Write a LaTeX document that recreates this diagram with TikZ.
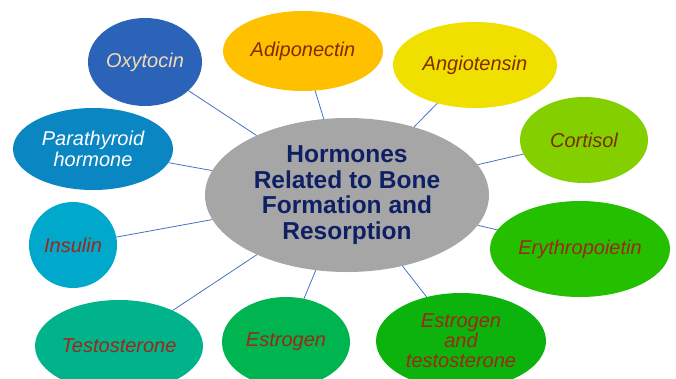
\documentclass[tikz,border=0pt]{standalone}
\usepackage{fontspec}
\setmainfont{Liberation Sans}
\usetikzlibrary{shapes.geometric}
\definecolor{linkc}{HTML}{4472C4}
\definecolor{centc}{HTML}{A6A6A6}
\definecolor{centt}{HTML}{0E2063}
\definecolor{oxyc}{HTML}{2A63B8}
\definecolor{adic}{HTML}{FFC000}
\definecolor{angc}{HTML}{EFE000}
\definecolor{corc}{HTML}{84CF00}
\definecolor{parc}{HTML}{0A86C2}
\definecolor{insc}{HTML}{00A9CC}
\definecolor{tesc}{HTML}{00B38A}
\definecolor{estc}{HTML}{00B44F}
\definecolor{etc}{HTML}{0DB30D}
\definecolor{eryc}{HTML}{24C000}
\definecolor{brownt}{HTML}{7E2C00}
\definecolor{redt}{HTML}{9C2818}
\definecolor{oxyt}{HTML}{F2DCB2}
\begin{document}
\begin{tikzpicture}[x=1pt,y=-1pt,
  bub/.style={ellipse,inner sep=0pt,outer sep=0pt,font=\fontsize{20}{21.5}\selectfont\itshape,align=center,text=brownt},
  link/.style={draw=linkc,line width=0.8pt}]
\useasboundingbox (0,0) rectangle (676,378);
\node[ellipse,fill=centc,minimum width=284pt,minimum height=154pt,inner sep=0pt,
  font=\fontsize{24.5}{25.7}\selectfont\bfseries,text=centt,align=center] (hub) at (347,195)
  {Hormones\\Related to Bone\\Formation and\\Resorption};
\node[bub,fill=oxyc,text=oxyt,minimum width=114pt,minimum height=88pt] (oxy) at (145,62) {Oxytocin};
\node[bub,fill=adic,minimum width=160pt,minimum height=80pt] (adi) at (303,51) {Adiponectin};
\node[bub,fill=angc,minimum width=164pt,minimum height=86pt] (ang) at (475,65) {Angiotensin};
\node[bub,fill=corc,minimum width=128pt,minimum height=86pt] (cor) at (584,140) {Cortisol};
\node[bub,fill=parc,text=white,minimum width=160pt,minimum height=82pt] (par) at (93,149) {Parathyroid\\hormone};
\node[bub,fill=insc,text=redt,minimum width=88pt,minimum height=86pt] (ins) at (73,245) {Insulin};
\node[bub,fill=tesc,text=redt,minimum width=168pt,minimum height=92pt] (tes) at (119,346) {Testosterone};
\node[bub,fill=estc,text=redt,minimum width=128pt,minimum height=90pt] (est) at (286,342) {Estrogen};
\node[bub,fill=etc,text=redt,minimum width=170pt,minimum height=96pt,font=\fontsize{20}{20}\selectfont\itshape] (et) at (461,341) {Estrogen\\and\\testosterone};
\node[bub,fill=eryc,text=redt,minimum width=180pt,minimum height=96pt] (ery) at (580,249) {Erythropoietin};
\foreach \n in {oxy,adi,ang,cor,par,ins,tes,est,et,ery}{
  \path[link] (hub) -- (\n);
}
\end{tikzpicture}
\end{document}
